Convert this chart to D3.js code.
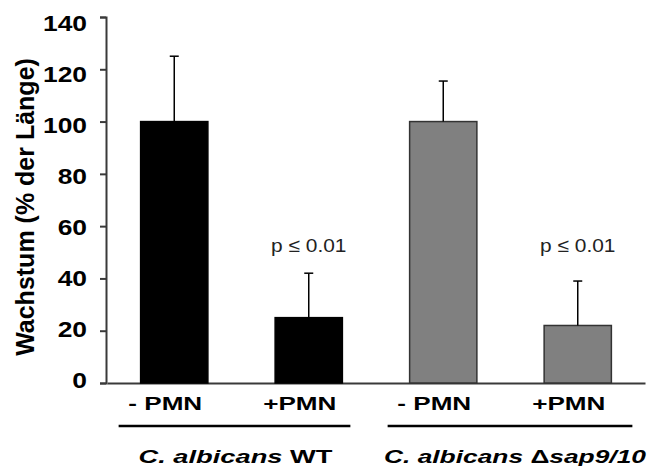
<!DOCTYPE html>
<meta charset="utf-8">
<style>
    body { margin: 0; background: #fff; }
    text { font-family: "Liberation Sans", Arial, sans-serif; }
    .axis path, .axis line { stroke: #3a3a3a; stroke-width: 2px; }
</style>
<svg width="649" height="466"></svg>
<script src="https://cdn.jsdelivr.net/npm/d3@7"></script>
<script>

    // data
    var categories = ["wt-", "wt+", "sap-", "sap+"];
    var catLabels = ["- PMN", "+PMN", "- PMN", "+PMN"];
    var values = [100, 25, 100, 22];
    var errTop = [125, 42, 115.5, 39];
    var fills = ["#000000", "#000000", "#808080", "#808080"];
    var pLabels = ["", "p \u2264 0.01", "", "p \u2264 0.01"];
    var yTicks = [0, 20, 40, 60, 80, 100, 120, 140];
    var groups = [
        {first: "wt-", last: "wt+", italic: "C. albicans ", plain: "WT", tail: "", len: 194},
        {first: "sap-", last: "sap+", italic: "C. albicans ", plain: "\u0394", tail: "sap9/10", len: 262}
    ];

    var svg = d3.select("svg");
    var stretch = 1.45;

    var x = d3.scaleBand().domain(categories).range([107, 645]).paddingInner(0.5).paddingOuter(0.25),
        y = d3.scaleLinear().domain([0, 140]).range([383, 17]),
        // tick labels in the original sit slightly tighter than the ticks
        yLab = d3.scaleLinear().domain([0, 140]).range([388, 31]);

    // y axis (labels drawn below)
    svg.append("g")
        .attr("class", "axis")
        .attr("transform", "translate(106,0)")
        .call(d3.axisLeft(y).tickValues(yTicks).tickSize(6).tickSizeOuter(6).tickFormat(""));

    svg.selectAll(".ylab")
        .data(yTicks)
        .enter().append("text")
        .attr("class", "ylab")
        .attr("transform", function(d) { return "translate(87," + yLab(d) + ") scale(1.2,1)"; })
        .attr("text-anchor", "end")
        .style("font-size", "22px")
        .style("font-weight", "bold")
        .text(function(d) { return d; });

    // x baseline
    svg.append("g")
        .attr("class", "axis")
        .attr("transform", "translate(0,383)")
        .call(d3.axisBottom(x).tickSize(0).tickFormat(""));

    // bars
    svg.selectAll(".bar")
        .data(categories)
        .enter().append("rect")
        .attr("class", "bar")
        .attr("x", function(d) { return x(d); })
        .attr("width", x.bandwidth())
        .attr("y", function(d, i) { return y(values[i]); })
        .attr("height", function(d, i) { return y(0) - y(values[i]); })
        .attr("fill", function(d, i) { return fills[i]; })
        .attr("stroke", function(d, i) { return i < 2 ? "#000" : "#333"; })
        .attr("stroke-width", 1.5);

    // error bars (upper only)
    var err = svg.selectAll(".err")
        .data(categories)
        .enter().append("g")
        .attr("class", "err")
        .attr("stroke", "#000")
        .attr("stroke-width", 1.5);
    err.append("line")
        .attr("x1", function(d) { return x(d) + x.bandwidth() / 2; })
        .attr("x2", function(d) { return x(d) + x.bandwidth() / 2; })
        .attr("y1", function(d, i) { return y(values[i]); })
        .attr("y2", function(d, i) { return y(errTop[i]); });
    err.append("line")
        .attr("x1", function(d) { return x(d) + x.bandwidth() / 2 - 4.5; })
        .attr("x2", function(d) { return x(d) + x.bandwidth() / 2 + 4.5; })
        .attr("y1", function(d, i) { return y(errTop[i]); })
        .attr("y2", function(d, i) { return y(errTop[i]); });

    // significance labels
    svg.selectAll(".plab")
        .data(categories.filter(function(d, i) { return pLabels[i]; }))
        .enter().append("text")
        .attr("class", "plab")
        .attr("transform", function(d) {
            return "translate(" + (x(d) + x.bandwidth() / 2) + "," + y(50) + ") scale(1.1,1)";
        })
        .attr("text-anchor", "middle")
        .style("font-size", "19px")
        .style("fill", "#222")
        .text(function(d) { return pLabels[categories.indexOf(d)]; });

    // category labels
    svg.selectAll(".clab")
        .data(categories)
        .enter().append("text")
        .attr("class", "clab")
        .attr("transform", function(d) {
            return "translate(" + (x(d) + x.bandwidth() / 2 - 9) + ",410) scale(" + stretch + ",1)";
        })
        .attr("text-anchor", "middle")
        .style("font-size", "18px")
        .style("font-weight", "bold")
        .text(function(d, i) { return catLabels[i]; });

    // group underlines and names
    groups.forEach(function(g, i) {
        var x0 = x(g.first) - 22,
            x1 = x(g.last) + x.bandwidth() + (i ? 21 : 8);
        svg.append("line")
            .attr("x1", x0).attr("x2", x1)
            .attr("y1", 426).attr("y2", 426)
            .attr("stroke", "#000")
            .attr("stroke-width", 2.5);
        var t = svg.append("text")
            .attr("x", (x0 + x1) / 2 + (i ? 5 : 1))
            .attr("y", 463)
            .attr("text-anchor", "middle")
            .attr("textLength", g.len)
            .attr("lengthAdjust", "spacingAndGlyphs")
            .style("font-size", "19px")
            .style("font-weight", "bold");
        t.append("tspan").style("font-style", "italic").text(g.italic);
        t.append("tspan").text(g.plain);
        if (g.tail) t.append("tspan").style("font-style", "italic").text(g.tail);
    });

    // y axis title
    svg.append("text")
        .attr("transform", "translate(34,207) rotate(-90)")
        .attr("text-anchor", "middle")
        .style("font-size", "25px")
        .style("font-weight", "bold")
        .text("Wachstum (% der L\u00e4nge)");

</script>
